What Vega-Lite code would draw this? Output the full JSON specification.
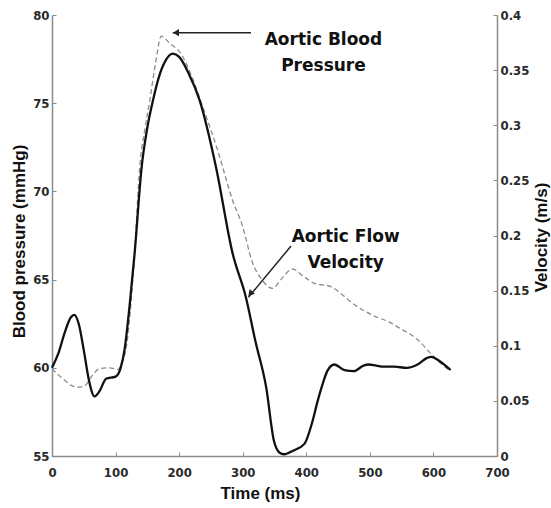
{
  "$schema": "https://vega.github.io/schema/vega-lite/v6.json",
  "width": 445,
  "height": 441,
  "autosize": {"type": "none"},
  "padding": {"left": 52, "top": 15, "right": 54, "bottom": 52},
  "background": "white",
  "config": {
    "view": {"stroke": null},
    "axis": {
      "domainColor": "#8a8a8a",
      "tickColor": "#8a8a8a",
      "domainWidth": 1.5,
      "tickWidth": 1,
      "tickSize": -4,
      "labelFont": "Liberation Sans Narrow, DejaVu Sans Condensed, Liberation Sans",
      "labelFontSize": 13,
      "labelFontWeight": "bold",
      "labelColor": "#2a2a2a",
      "labelFlush": false,
      "titleFont": "Liberation Sans",
      "titleFontSize": 17,
      "titleFontWeight": "bold",
      "titleColor": "#111",
      "grid": false
    }
  },
  "datasets": {
    "pressure": [
      {"t": 0, "p": 59.95}, {"t": 10, "p": 59.6}, {"t": 20, "p": 59.3}, {"t": 30, "p": 59.0},
      {"t": 41, "p": 58.9}, {"t": 52, "p": 59.0}, {"t": 62, "p": 59.5}, {"t": 75, "p": 59.95},
      {"t": 91, "p": 60.0}, {"t": 104, "p": 59.9}, {"t": 110, "p": 60.3}, {"t": 117, "p": 61.2},
      {"t": 125, "p": 64.0}, {"t": 130, "p": 66.5}, {"t": 138, "p": 71.4}, {"t": 146, "p": 73.5},
      {"t": 154, "p": 75.2}, {"t": 163, "p": 77.3}, {"t": 172, "p": 78.8}, {"t": 185, "p": 78.4},
      {"t": 203, "p": 77.8}, {"t": 220, "p": 76.5}, {"t": 240, "p": 74.5}, {"t": 260, "p": 72.4},
      {"t": 284, "p": 69.5}, {"t": 300, "p": 68.0}, {"t": 315, "p": 66.0}, {"t": 330, "p": 65.0},
      {"t": 347, "p": 64.5}, {"t": 360, "p": 65.0}, {"t": 378, "p": 65.6}, {"t": 395, "p": 65.2},
      {"t": 412, "p": 64.8}, {"t": 439, "p": 64.6}, {"t": 458, "p": 64.1}, {"t": 475, "p": 63.6},
      {"t": 506, "p": 62.95}, {"t": 530, "p": 62.6}, {"t": 549, "p": 62.2}, {"t": 575, "p": 61.6},
      {"t": 596, "p": 60.8}, {"t": 610, "p": 60.3}, {"t": 627, "p": 59.8}
    ],
    "velocity": [
      {"t": 0, "v": 0.080}, {"t": 10, "v": 0.093}, {"t": 20, "v": 0.112}, {"t": 30, "v": 0.126},
      {"t": 35, "v": 0.128}, {"t": 42, "v": 0.120}, {"t": 50, "v": 0.096}, {"t": 58, "v": 0.069},
      {"t": 67, "v": 0.054}, {"t": 75, "v": 0.059}, {"t": 85, "v": 0.070}, {"t": 100, "v": 0.072},
      {"t": 108, "v": 0.080}, {"t": 114, "v": 0.096}, {"t": 122, "v": 0.136}, {"t": 130, "v": 0.184},
      {"t": 141, "v": 0.262}, {"t": 150, "v": 0.298}, {"t": 159, "v": 0.323}, {"t": 170, "v": 0.347},
      {"t": 180, "v": 0.360}, {"t": 190, "v": 0.365}, {"t": 200, "v": 0.362}, {"t": 215, "v": 0.347},
      {"t": 232, "v": 0.323}, {"t": 258, "v": 0.262}, {"t": 284, "v": 0.184}, {"t": 305, "v": 0.144},
      {"t": 320, "v": 0.104}, {"t": 337, "v": 0.062}, {"t": 349, "v": 0.014}, {"t": 358, "v": 0.003},
      {"t": 365, "v": 0.0016}, {"t": 380, "v": 0.005}, {"t": 397, "v": 0.011}, {"t": 410, "v": 0.032},
      {"t": 417, "v": 0.048}, {"t": 425, "v": 0.064}, {"t": 433, "v": 0.077}, {"t": 444, "v": 0.083},
      {"t": 460, "v": 0.078}, {"t": 475, "v": 0.077}, {"t": 490, "v": 0.082}, {"t": 498, "v": 0.083},
      {"t": 510, "v": 0.082}, {"t": 522, "v": 0.081}, {"t": 538, "v": 0.081}, {"t": 558, "v": 0.080},
      {"t": 575, "v": 0.083}, {"t": 590, "v": 0.089}, {"t": 596, "v": 0.090}, {"t": 610, "v": 0.086},
      {"t": 627, "v": 0.078}
    ],
    "labels": [
      {"t": 427, "p": 78.6, "text": ["Aortic Blood", "Pressure"]},
      {"t": 462, "p": 67.4, "text": ["Aortic Flow", "Velocity"]}
    ],
    "arrows": [
      {"t": 313, "p": 79.0, "t2": 190, "p2": 79.0},
      {"t": 376, "p": 66.9, "t2": 309, "p2": 64.0}
    ],
    "heads": [
      {"t": 195, "p": 79.0, "angle": 270},
      {"t": 312, "p": 64.2, "angle": 220}
    ]
  },
  "layer": [
    {
      "layer": [
        {
          "data": {"name": "pressure"},
          "mark": {"type": "line", "interpolate": "monotone", "color": "#8c8c8c", "strokeWidth": 1.3, "strokeDash": [5, 3]},
          "encoding": {
            "x": {"field": "t", "type": "quantitative", "scale": {"domain": [0, 700], "nice": false},
                  "axis": {"values": [0, 100, 200, 300, 400, 500, 600, 700], "title": "Time (ms)", "titlePadding": 6, "labelPadding": 14, "titleX": 208}},
            "y": {"field": "p", "type": "quantitative", "scale": {"domain": [55, 80], "nice": false, "zero": false},
                  "axis": {"values": [55, 60, 65, 70, 75, 80], "title": "Blood pressure (mmHg)", "titlePadding": 4, "labelPadding": 7, "titleY": 226}}
          }
        },
        {
          "data": {"name": "arrows"},
          "mark": {"type": "rule", "color": "#222", "strokeWidth": 1.5},
          "encoding": {
            "x": {"field": "t", "type": "quantitative"},
            "y": {"field": "p", "type": "quantitative"},
            "x2": {"field": "t2"},
            "y2": {"field": "p2"}
          }
        },
        {
          "data": {"name": "heads"},
          "mark": {"type": "point", "shape": "triangle-up", "filled": true, "color": "#222", "size": 50, "opacity": 1},
          "encoding": {
            "x": {"field": "t", "type": "quantitative"},
            "y": {"field": "p", "type": "quantitative"},
            "angle": {"field": "angle", "type": "quantitative", "scale": null}
          }
        },
        {
          "data": {"name": "labels"},
          "mark": {"type": "text", "font": "DejaVu Sans", "fontSize": 17, "fontWeight": "bold", "align": "center", "baseline": "middle", "lineHeight": 26, "color": "#111"},
          "encoding": {
            "x": {"field": "t", "type": "quantitative"},
            "y": {"field": "p", "type": "quantitative"},
            "text": {"field": "text"}
          }
        }
      ]
    },
    {
      "data": {"name": "velocity"},
      "mark": {"type": "line", "interpolate": "monotone", "color": "#111", "strokeWidth": 2.3},
      "encoding": {
        "x": {"field": "t", "type": "quantitative"},
        "y": {"field": "v", "type": "quantitative", "scale": {"domain": [0, 0.4], "nice": false},
              "axis": {"orient": "right", "values": [0, 0.05, 0.1, 0.15, 0.2, 0.25, 0.3, 0.35, 0.4], "format": "~g", "title": "Velocity (m/s)", "titleAngle": 270, "titlePadding": 22, "labelPadding": 7, "titleY": 222}}
      }
    }
  ],
  "resolve": {"scale": {"y": "independent"}}
}
